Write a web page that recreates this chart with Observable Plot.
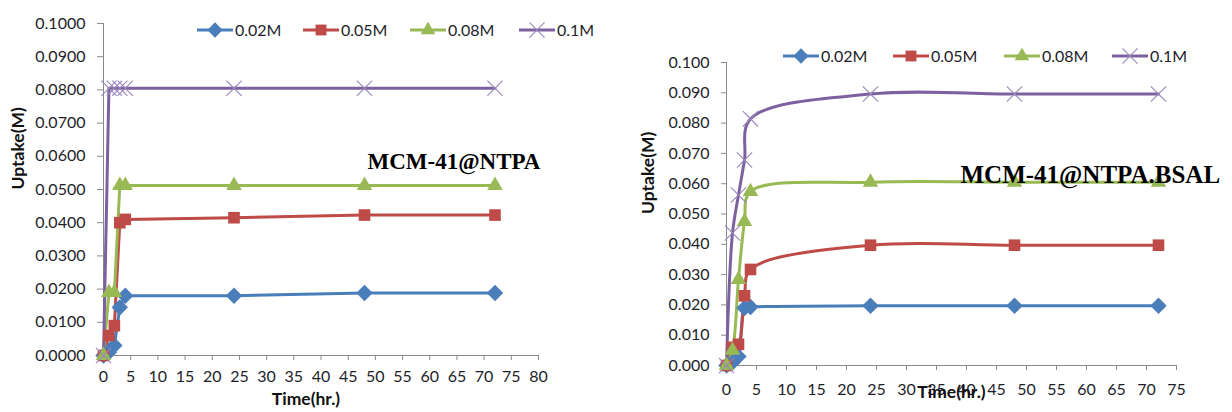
<!DOCTYPE html>
<html><head><meta charset="utf-8">
<script src="https://cdn.jsdelivr.net/npm/d3@7"></script>
<script src="https://cdn.jsdelivr.net/npm/@observablehq/plot@0.6"></script>
<style>
html,body{margin:0;padding:0;background:#fff}
body{width:1232px;height:412px;position:relative;overflow:hidden;font-family:Lato,"DejaVu Sans",sans-serif}
.panel{position:absolute;top:0}
.legend-item{position:absolute;display:flex;align-items:center;font-size:16px;color:#1e1e2a;white-space:nowrap;line-height:16px}
.legend-item svg{display:block;margin-right:2px}
</style></head><body>
<div id="left" class="panel" style="left:0px"></div>
<div id="right" class="panel" style="left:616px"></div>
<script>
// ---- data ----
const TIME = [0, 1, 2, 3, 4, 24, 48, 72];
const SERIES = ["0.02M", "0.05M", "0.08M", "0.1M"];
const COLORS = ["#4A7EBB", "#BE4B48", "#98B954", "#7D60A0"];
const SYMBOLS = ["diamond2", "square2", "triangle2", "times"];

// MCM-41@NTPA
const ntpa_002 = [0, 0.0010, 0.0030, 0.0145, 0.0180, 0.0180, 0.0188, 0.0188];
const ntpa_005 = [0, 0.0060, 0.0090, 0.0400, 0.0410, 0.0415, 0.0423, 0.0423];
const ntpa_008 = [0, 0.0190, 0.0190, 0.0512, 0.0512, 0.0512, 0.0512, 0.0512];
const ntpa_01  = [0, 0.0805, 0.0805, 0.0805, 0.0805, 0.0805, 0.0805, 0.0805];

// MCM-41@NTPA.BSAL
const bsal_002 = [0, 0.0010, 0.0030, 0.0190, 0.0193, 0.0197, 0.0197, 0.0197];
const bsal_005 = [0, 0.0060, 0.0070, 0.0230, 0.0317, 0.0397, 0.0397, 0.0397];
const bsal_008 = [0, 0.0050, 0.0284, 0.0475, 0.0574, 0.0605, 0.0605, 0.0605];
const bsal_01  = [0, 0.0437, 0.0563, 0.0678, 0.0814, 0.0896, 0.0896, 0.0896];

const Y_TICKS = [0, 0.01, 0.02, 0.03, 0.04, 0.05, 0.06, 0.07, 0.08, 0.09, 0.1];
const X_TICKS_LEFT = [0, 5, 10, 15, 20, 25, 30, 35, 40, 45, 50, 55, 60, 65, 70, 75, 80];
const X_TICKS_RIGHT = [0, 5, 10, 15, 20, 25, 30, 35, 40, 45, 50, 55, 60, 65, 70, 75];

function rows(arrays) {
  const out = [];
  arrays.forEach((vals, si) => vals.forEach((v, i) => out.push({t: TIME[i], v, s: SERIES[si]})));
  return out;
}

function chart(cfg) {
  const data = rows(cfg.series);
  const marks = [
    Plot.ruleX([0], {stroke: "#8a8a8a", strokeWidth: 1}),
    Plot.ruleY([0], {stroke: "#8a8a8a", strokeWidth: 1}),
    Plot.axisY({ticks: Y_TICKS, tickFormat: d3.format(cfg.yfmt), tickSize: cfg.yTickSize, tickPadding: cfg.yTickPad, stroke: "#8a8a8a", fill: "#1e1e2a", label: null, fontSize: 16}),
    Plot.axisX({ticks: cfg.xticks, tickFormat: d => d, tickSize: 5, tickPadding: cfg.xTickPad, stroke: "#8a8a8a", fill: "#1e1e2a", label: null, fontSize: 16}),
    Plot.line(data, {x: "t", y: "v", z: "s", stroke: "s", strokeWidth: 3, curve: cfg.curve}),
  ];
  SERIES.forEach((name, i) => {
    const d = data.filter(r => r.s === name);
    if (SYMBOLS[i] === "times") {
      marks.push(Plot.dot(d, {x: "t", y: "v", symbol: () => SYMBOLS[i], r: 7, stroke: "#9a86bd", strokeWidth: 1.1, fill: "none"}));
    } else {
      marks.push(Plot.dot(d, {x: "t", y: "v", symbol: () => SYMBOLS[i], r: 7.4, fill: COLORS[i], stroke: "none"}));
    }
  });
  marks.push(
    Plot.text(["Uptake(M)"], {frameAnchor: "left", rotate: -90, dx: cfg.yTitleDx, fontWeight: "bold", fontSize: 17.5, fill: "#111"}),
    Plot.text(["Time(hr.)"], {frameAnchor: "bottom", dx: cfg.xTitleDx, dy: cfg.xTitleDy, fontWeight: "bold", fontSize: 17.5, fill: "#111"}),
    Plot.text([cfg.title], {frameAnchor: "top-left", textAnchor: "start", dx: cfg.titleDx, dy: cfg.titleDy, fontFamily: "Liberation Serif", fontWeight: "bold", fontSize: cfg.titleSize, fill: "#000"})
  );
  return Plot.plot({
    width: cfg.width, height: 412,
    marginLeft: cfg.ml, marginRight: cfg.mr, marginTop: cfg.mt, marginBottom: cfg.mb,
    style: {fontFamily: "Lato", fontSize: "16px", background: "transparent", overflow: "visible"},
    x: {domain: cfg.xdomain},
    y: {domain: [0, 0.1]},
    color: {domain: SERIES, range: COLORS},
    marks
  });
}

function legend(container, lefts, top) {
  SERIES.forEach((name, i) => {
    const item = document.createElement("div");
    item.className = "legend-item";
    item.style.left = lefts[i] + "px";
    item.style.top = (top - 8) + "px";
    const svg = d3.create("svg").attr("width", 36).attr("height", 16);
    svg.append("line").attr("x1", 0).attr("x2", 36).attr("y1", 8).attr("y2", 8).attr("stroke", COLORS[i]).attr("stroke-width", 3);
    const symMap = {diamond2: d3.symbolDiamond2, square2: d3.symbolSquare2, triangle2: d3.symbolTriangle2, times: d3.symbolTimes};
    const path = svg.append("path").attr("transform", "translate(18,8)").attr("d", d3.symbol(symMap[SYMBOLS[i]], 150)());
    if (SYMBOLS[i] === "times") path.attr("fill", "none").attr("stroke", "#9a86bd").attr("stroke-width", 1.1);
    else path.attr("fill", COLORS[i]);
    item.appendChild(svg.node());
    const span = document.createElement("span");
    span.textContent = name;
    item.appendChild(span);
    container.appendChild(item);
  });
}

document.getElementById("left").appendChild(chart({
  series: [ntpa_002, ntpa_005, ntpa_008, ntpa_01],
  width: 600, ml: 103, mr: 62, mt: 23, mb: 57,
  xdomain: [0, 80], xticks: X_TICKS_LEFT, yfmt: ".4f",
  yTickSize: 6, yTickPad: 12, xTickPad: 10,
  curve: "linear",
  yTitleDx: -85, xTitleDx: -15, xTitleDy: 49,
  title: "MCM-41@NTPA", titleDx: 264, titleDy: 129, titleSize: 23
}));
document.getElementById("right").appendChild(chart({
  series: [bsal_002, bsal_005, bsal_008, bsal_01],
  width: 616, ml: 110, mr: 56, mt: 62, mb: 47,
  xdomain: [0, 75], xticks: X_TICKS_RIGHT, yfmt: ".3f",
  yTickSize: 5, yTickPad: 12, xTickPad: 13,
  curve: "catmull-rom",
  yTitleDx: -78, xTitleDx: 0, xTitleDy: 32,
  title: "MCM-41@NTPA.BSAL", titleDx: 234, titleDy: 103, titleSize: 25
}));
legend(document.body, [197, 303, 410, 519], 30);
legend(document.body, [783, 893, 1004, 1112], 56);
</script>
</body></html>
